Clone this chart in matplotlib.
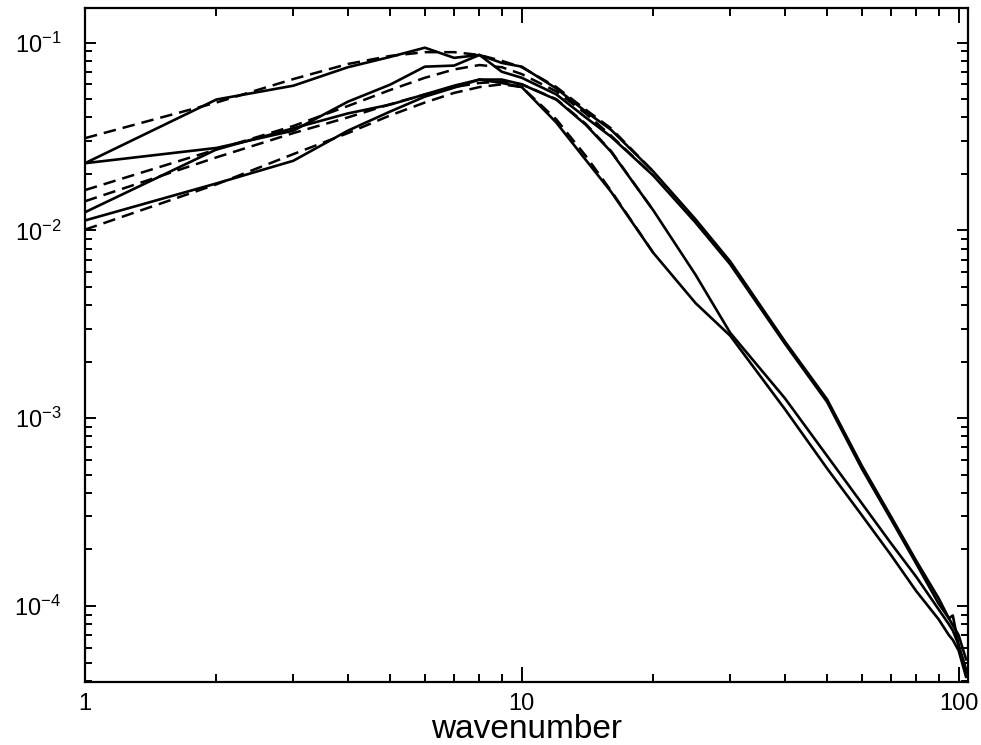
import matplotlib
matplotlib.use('Agg')
import matplotlib.pyplot as plt
import matplotlib.ticker as mticker

plt.rcParams['font.family'] = ['Liberation Sans', 'DejaVu Sans']
plt.rcParams['mathtext.fontset'] = 'custom'
plt.rcParams['mathtext.rm'] = 'Liberation Sans'
plt.rcParams['mathtext.it'] = 'Liberation Sans:italic'
plt.rcParams['mathtext.bf'] = 'Liberation Sans:bold'

k = [1, 2, 3, 4, 5, 6, 7, 8, 9, 10, 12, 14, 16, 20, 25, 30, 40, 50, 60, 70, 80,
     90, 95, 97, 100, 104]

# measured spectra (solid)
spec_a = [0.0228, 0.0498, 0.059, 0.074, 0.084, 0.094, 0.083, 0.086, 0.078, 0.0745,
          0.057, 0.043, 0.0344, 0.0206, 0.01145, 0.00684, 0.00257, 0.00126, 5.6e-4,
          3.0e-4, 1.74e-4, 1.1e-4, 8.6e-5, 7.9e-5, 7.0e-5, 5.2e-5]
spec_b = [0.0228, 0.0275, 0.034, 0.0485, 0.0598, 0.0745, 0.0755, 0.086, 0.070, 0.065,
          0.053, 0.040, 0.0316, 0.0196, 0.0110, 0.0066, 0.0025, 0.00122, 5.4e-4,
          2.9e-4, 1.68e-4, 1.03e-4, 8.6e-5, 8.9e-5, 6.2e-5, 4.6e-5]
spec_c = [0.0125, 0.027, 0.035, 0.042, 0.0468, 0.053, 0.059, 0.0636, 0.0636, 0.060,
          0.0497, 0.0366, 0.0263, 0.0128, 0.0058, 0.00285, 0.00128, 6.3e-4, 3.53e-4,
          2.16e-4, 1.43e-4, 9.6e-5, 8.0e-5, 7.4e-5, 6.2e-5, 4.4e-5]
spec_d = [0.0113, 0.0178, 0.0235, 0.034, 0.043, 0.0516, 0.0576, 0.0636, 0.061, 0.058,
          0.0375, 0.0238, 0.0161, 0.0076, 0.0041, 0.00275, 0.00112, 5.4e-4, 3.05e-4,
          1.87e-4, 1.2e-4, 8.5e-5, 7.0e-5, 6.6e-5, 5.8e-5, 4.2e-5]

# fitted spectra (dashed)
k_fit = [1, 2, 3, 4, 5, 6, 7, 8, 9, 10, 12, 14, 16, 20]
fit_a = [0.031, 0.048, 0.064, 0.077, 0.085, 0.089, 0.089, 0.086, 0.080, 0.074,
         0.058, 0.044, 0.035, 0.0206]
fit_b = [0.0164, 0.027, 0.036, 0.046, 0.056, 0.065, 0.072, 0.076, 0.074, 0.068,
         0.055, 0.042, 0.032, 0.0196]
fit_c = [0.0143, 0.0245, 0.033, 0.040, 0.047, 0.053, 0.058, 0.061, 0.062, 0.060,
         0.050, 0.037, 0.0265, 0.0128]
fit_d = [0.0101, 0.0176, 0.0255, 0.033, 0.041, 0.048, 0.054, 0.058, 0.060, 0.058,
         0.039, 0.025, 0.0163, 0.0076]

fig = plt.figure(figsize=(9.81, 7.45), dpi=100)
ax = fig.add_axes([0.0866, 0.0846, 0.900, 0.9047])

for f in [fit_a, fit_b, fit_c, fit_d]:
    ax.plot(k_fit, f, color='black', lw=1.8, ls=(0, (5, 2.8)))
for s in [spec_a, spec_b, spec_c, spec_d]:
    ax.plot(k, s, color='black', lw=1.9)

ax.set_xscale('log')
ax.set_yscale('log')
ax.set_xlim(1, 105)
ax.set_ylim(3.94e-5, 0.153)

ax.xaxis.set_major_formatter(mticker.FuncFormatter(lambda v, p: '%g' % v))
ax.xaxis.set_minor_formatter(mticker.NullFormatter())
ax.yaxis.set_major_locator(mticker.LogLocator(base=10))
ax.yaxis.set_minor_locator(mticker.LogLocator(base=10, subs=range(2, 10)))
ax.yaxis.set_minor_formatter(mticker.NullFormatter())

ax.tick_params(which='both', direction='in', top=True, right=True, width=1.4,
               labelsize=17)
ax.tick_params(axis='x', which='major', length=11, pad=8)
ax.tick_params(axis='x', which='minor', length=6)
ax.tick_params(axis='y', which='major', length=8, pad=17)
ax.tick_params(axis='y', which='minor', length=5)
for sp in ax.spines.values():
    sp.set_linewidth(1.6)

ax.set_xlabel('wavenumber', fontsize=24)
ax.xaxis.set_label_coords(0.5, -0.048)

fig.savefig('out.png', dpi=100)
